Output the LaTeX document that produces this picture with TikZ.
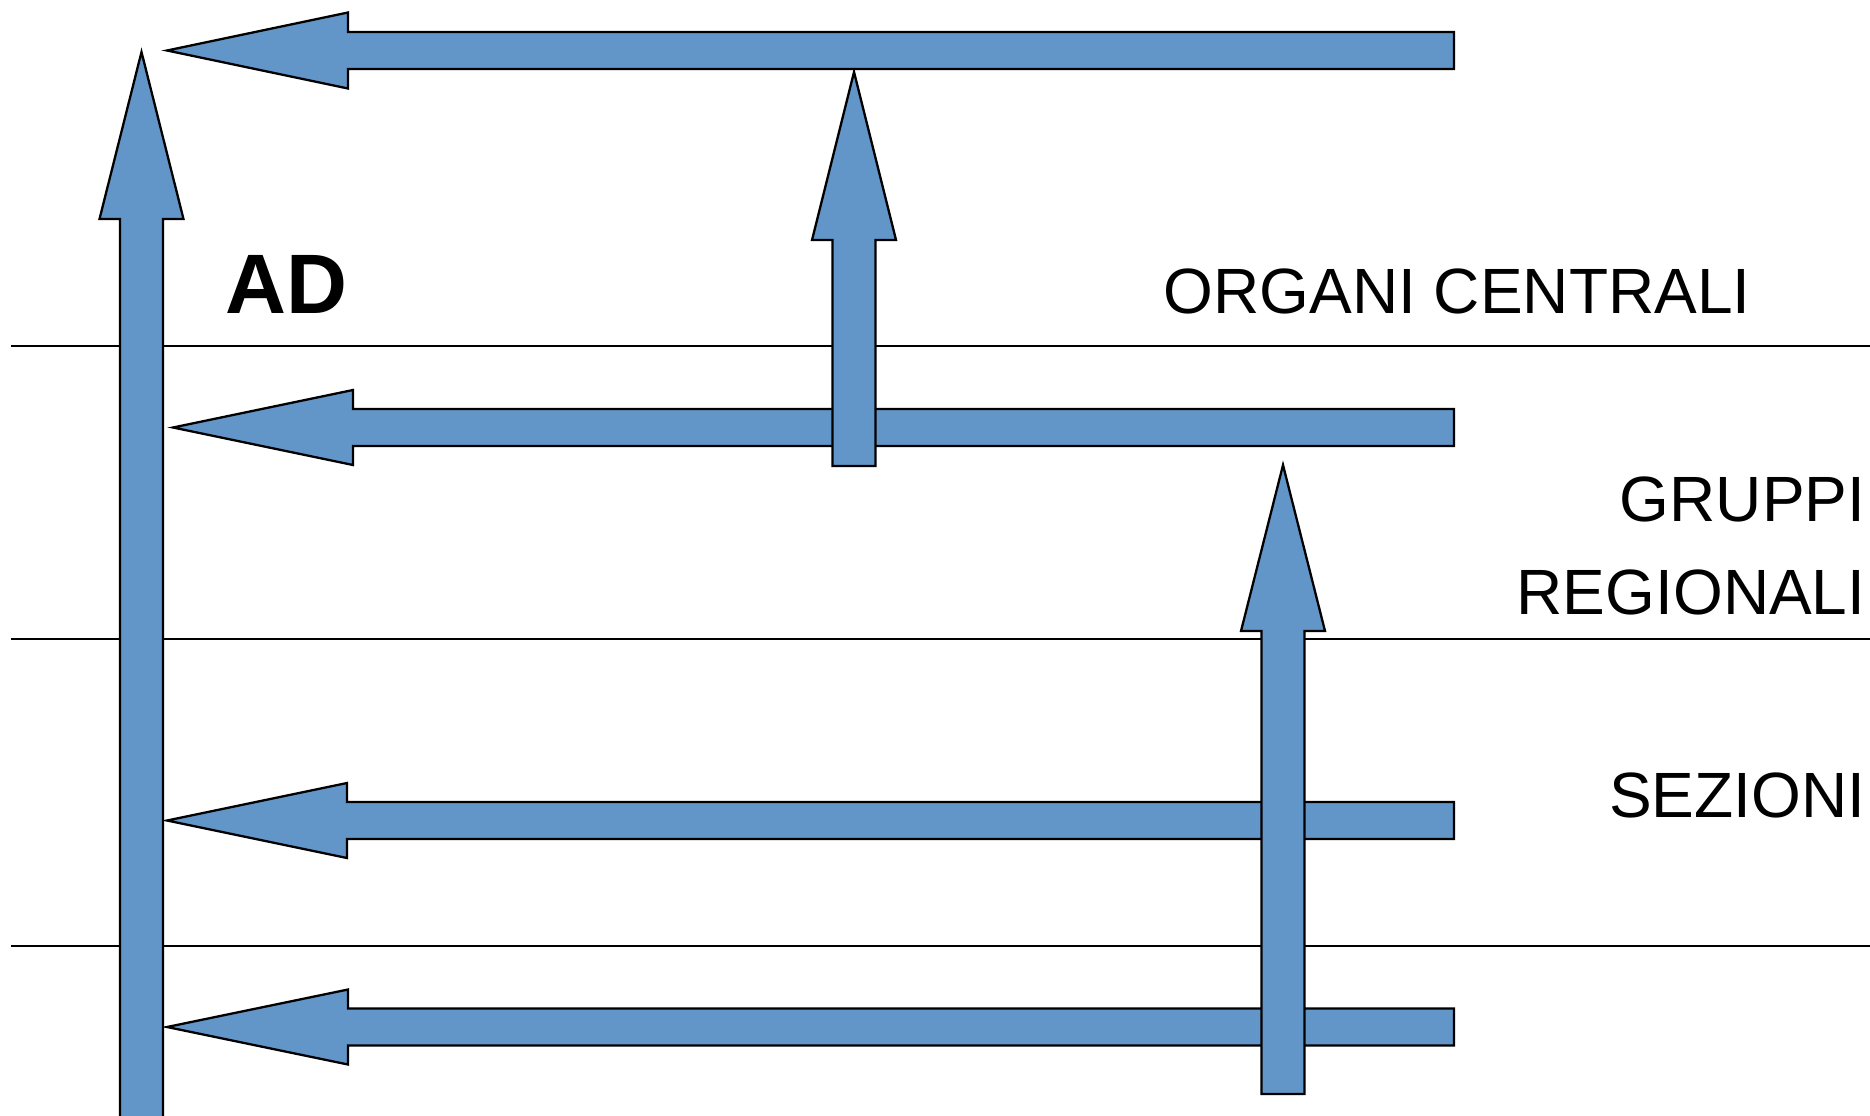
\documentclass[tikz,border=0pt]{standalone}
\usepackage{fontspec}
\setmainfont{Liberation Sans}
\usepackage{tikz}

\definecolor{arrowblue}{RGB}{98,150,200}

\tikzset{
  blockarrow/.style={draw=black, line width=.65pt, fill=arrowblue, line join=miter},
  levelline/.style={draw=black, line width=.65pt},
  levellabel/.style={inner sep=0pt, font=\fontsize{18.2pt}{26.4pt}\selectfont, align=right}
}

\begin{document}
\begin{tikzpicture}[x=0.01cm, y=-0.01cm]

        \useasboundingbox (0,0) rectangle (1870,1115);

        % level separators
        \draw[levelline] (11,346) -- (1870,346);
        \draw[levelline] (11,639) -- (1870,639);
        \draw[levelline] (11,946) -- (1870,946);

        % arrows towards AD
        \draw[blockarrow] (167,50.5) -- (348,12.5) -- (348,32) -- (1454,32)
              -- (1454,69) -- (348,69) -- (348,88.5) -- cycle;
        \draw[blockarrow] (173,427.5) -- (353,390) -- (353,409) -- (1454,409)
              -- (1454,446) -- (353,446) -- (353,465) -- cycle;
        \draw[blockarrow] (167,820.5) -- (347,783) -- (347,802) -- (1454,802)
              -- (1454,839) -- (347,839) -- (347,858) -- cycle;
        \draw[blockarrow] (167,1027) -- (348,989.5) -- (348,1008.5) -- (1454,1008.5)
              -- (1454,1045.5) -- (348,1045.5) -- (348,1064.5) -- cycle;

        % arrows upwards
        \draw[blockarrow] (141.5,52) -- (183.5,219) -- (163,219) -- (163,1125)
              -- (120,1125) -- (120,219) -- (99.5,219) -- cycle;
        \draw[blockarrow] (854,72) -- (896,240) -- (875.5,240) -- (875.5,466)
              -- (832.5,466) -- (832.5,240) -- (812,240) -- cycle;
        \draw[blockarrow] (1283,465) -- (1325,631) -- (1304.5,631) -- (1304.5,1094)
              -- (1261.5,1094) -- (1261.5,631) -- (1241,631) -- cycle;

        % labels
        \node[inner sep=0pt, anchor=base west, font=\fontsize{24pt}{28pt}\selectfont\bfseries]
              (ad) at (225,313) {AD};
        \node[levellabel, anchor=base west] (organi) at (1163,313) {ORGANI CENTRALI};
        \node[levellabel, anchor=base east] (gruppi) at (1866,521) {GRUPPI};
        \node[levellabel, anchor=base east] (regionali) at (1866,614) {REGIONALI};
        \node[levellabel, anchor=base east] (sezioni) at (1866,817) {SEZIONI};

      \end{tikzpicture}
\end{document}
